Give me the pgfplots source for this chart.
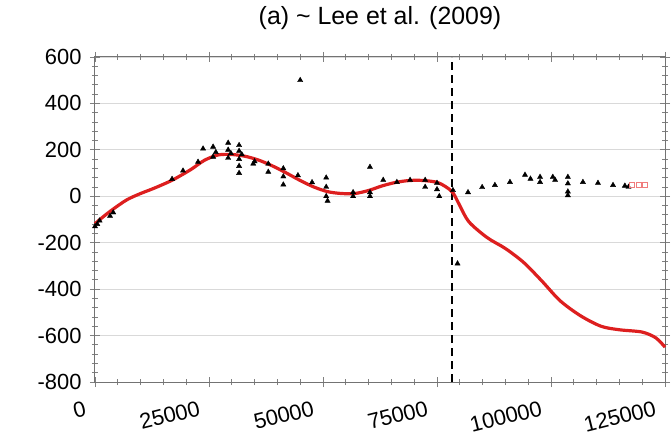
\documentclass[border=0pt]{standalone}
\usepackage{fontspec}
\setmainfont{Liberation Sans}
\usepackage{pgfplots}
\pgfplotsset{compat=1.18}
\definecolor{curvered}{HTML}{DD1F1F}
\definecolor{sqred}{HTML}{F07C7C}
\begin{document}
\begin{tikzpicture}[font=\fontsize{22}{25}\selectfont]
\path[use as bounding box] (-95bp,-64bp) rectangle (576bp,382bp);
\begin{axis}[
  at={(0,0)}, anchor=south west,
  scale only axis, width=570bp, height=325bp,
  xmin=0, xmax=125000, ymin=-800, ymax=600,
  scaled x ticks=false, scaled y ticks=false,
  xtick={0,25000,50000,75000,100000,125000},
  xticklabels={0,25000,50000,75000,100000,125000},
  ytick={-800,-600,-400,-200,0,200,400,600},
  yticklabels={-800,-600,-400,-200,0,200,400,600},
  minor x tick num=4, minor y tick num=4,
  xticklabel style={xshift=-9bp, yshift=-9bp, rotate=14, anchor=north east, font=\fontsize{22}{25}\selectfont},
  yticklabel style={xshift=-5bp, font=\fontsize{22}{25}\selectfont},
  ymajorgrids, grid style={black!15, line width=0.8bp},
  axis line style={black!55, line width=1bp},
  tick style={black!50, line width=0.8bp},
  major tick length=10bp, minor tick length=6bp,
  tick align=center,
  title={(a) \textasciitilde{} Lee et al. (2009)},
  title style={yshift=18bp, font=\fontsize{25}{29}\selectfont},
  clip=false,
]
% dashed vertical line
\addplot[black, line width=2bp, dash pattern=on 8bp off 5bp] coordinates {(78300,-800) (78300,600)};
% observations (black triangles)
\addplot[only marks, mark=triangle*, mark size=3bp, black] coordinates {
(0,-130) (500,-120) (1000,-105) (3300,-85) (4000,-70)
(16900,74) (19300,110) (22600,148) (23700,205) (25900,213) (25900,170) (26500,190)
(29200,230) (29200,200) (29200,165) (29800,185)
(31600,220) (31600,195) (31600,160) (31600,130) (31600,100) (32200,180)
(34700,140) (35000,150) (38000,140) (38000,105)
(41300,120) (41300,85) (41300,50) (44500,90) (45000,500) (47600,60)
(50700,80) (50700,40) (50700,0) (51000,-20)
(56600,17) (56600,0) (60300,126) (60300,17) (60300,0)
(63200,70) (66200,61) (69100,70) (72400,70) (72400,40)
(75000,57) (75000,30) (75500,0) (78500,26) (79500,-290)
(81800,17) (84900,39) (87700,48) (91000,61) (94300,92) (95500,75)
(97600,83) (97600,61) (100400,83) (100900,70)
(103700,83) (103700,55) (103700,20) (103700,4)
(107000,61) (110300,57) (113600,48) (116200,45) (117000,40)
};
% red open squares
\addplot[only marks, mark=square, mark size=2.5bp, sqred, line width=1bp] coordinates {
(117800,48) (119200,48) (120600,48)
};
% red model curve
\addplot[curvered, line width=3.2bp, smooth] coordinates {
(0,-118) (2000,-85) (4000,-55) (7000,-15) (10000,12) (13000,35) (17000,70)
(21000,115) (24000,155) (27000,178) (30000,180) (33000,172) (36000,155)
(39000,130) (42000,100) (45000,68) (48000,40) (51000,20) (54000,12)
(57000,12) (60000,25) (63000,45) (66000,60) (69000,68) (72000,68)
(75000,60) (77000,40) (78500,15) (80000,-40) (82000,-110) (86000,-178)
(90000,-225) (94000,-285) (98000,-365) (102000,-450) (106500,-515)
(111000,-560) (115000,-575) (120000,-585) (123000,-610) (125000,-650)
};
\end{axis}
\end{tikzpicture}
\end{document}
